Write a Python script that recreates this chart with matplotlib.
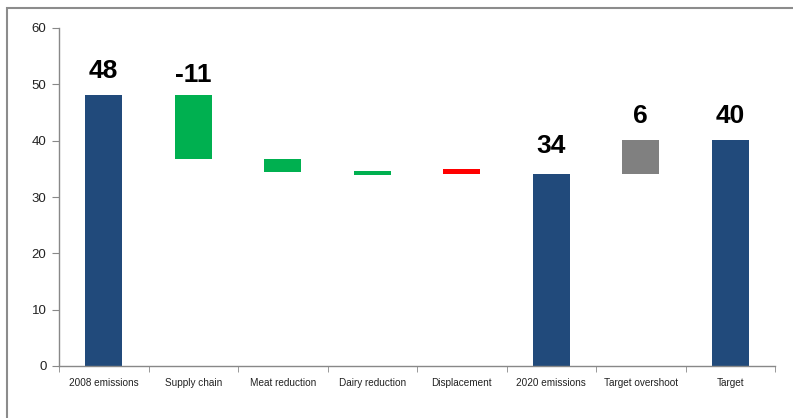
import matplotlib
matplotlib.use("Agg")
import matplotlib.pyplot as plt
from matplotlib.patches import Rectangle
import numpy as np

categories = ["2008 emissions", "Supply chain", "Meat reduction", "Dairy reduction",
              "Displacement", "2020 emissions", "Target overshoot", "Target"]
bar_bottoms = [0, 36.8, 34.5, 33.9, 34.1, 0, 34.0, 0]
bar_tops = [48.1, 48.1, 36.8, 34.6, 35.0, 34.1, 40.1, 40.1]
bar_colors = ["#214A7B", "#00B050", "#00B050", "#00B050", "#FF0000", "#214A7B", "#808080", "#214A7B"]
value_labels = ["48", "-11", "", "", "", "34", "6", "40"]
label_offsets_px = [12, 8, 0, 0, 0, 16, 12, 12]
y_ticks = [0, 10, 20, 30, 40, 50, 60]

plt.rcParams['font.family'] = ['Liberation Sans', 'DejaVu Sans']

fig = plt.figure(figsize=(7.93, 4.18), dpi=100)
ax = fig.add_axes([59/793, 52/418, (775-59)/793, (390-52)/418])

x = np.arange(len(categories))
heights = [t - b for t, b in zip(bar_tops, bar_bottoms)]
ax.bar(x, heights, bottom=bar_bottoms, width=0.41, color=bar_colors, zorder=2)

for xi, top, lab, off in zip(x, bar_tops, value_labels, label_offsets_px):
    if lab:
        ax.annotate(lab, (xi, top), xytext=(0, off * 0.72), textcoords="offset points",
                    ha="center", va="bottom", fontsize=19, fontweight="bold", color="black")

ax.set_xlim(-0.5, len(categories) - 0.5)
ax.set_ylim(0, 60)
ax.set_yticks(y_ticks)
ax.set_yticklabels([str(v) for v in y_ticks], fontsize=9.5, color="#222222")
ax.set_xticks(x)
ax.set_xticklabels(categories, fontsize=7.2, color="#222222")
ax.set_xticks(np.arange(-0.5, len(categories)), minor=True)
ax.tick_params(axis="x", which="major", length=0, pad=9)
ax.tick_params(axis="x", which="minor", length=4, color="#888888", direction="out")
ax.tick_params(axis="y", length=5, color="#888888", direction="out", pad=4)

for s in ["top", "right"]:
    ax.spines[s].set_visible(False)
for s in ["left", "bottom"]:
    ax.spines[s].set_color("#888888")
    ax.spines[s].set_linewidth(1.0)

fig.patches.append(Rectangle((7/793, -0.2), 1.2, 1 - 8/418 + 0.2, transform=fig.transFigure,
                             fill=False, edgecolor="#8C8C8C", linewidth=1.5))

fig.savefig("out.png", dpi=100)
